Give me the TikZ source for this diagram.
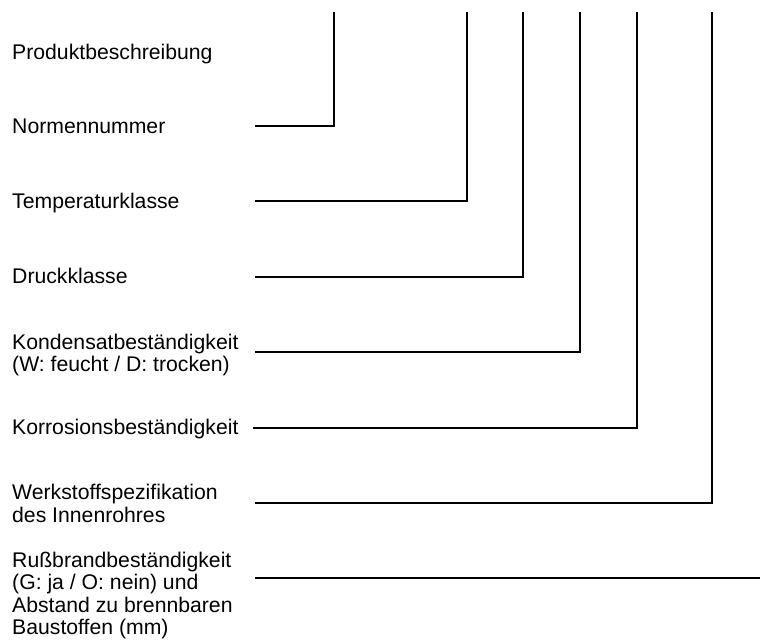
\documentclass[tikz,border=0pt]{standalone}
\usepackage{fontspec}
\setmainfont{Liberation Sans}
\begin{document}
\begin{tikzpicture}[x=1pt,y=-1pt,
  lbl/.style={anchor=base west,inner sep=0pt,align=left,font=\fontsize{21.2}{22.4}\selectfont},
  lead/.style={line width=1.4pt,line cap=butt,line join=miter}]
\useasboundingbox (0,0) rectangle (760,644);
% labels (base anchor = baseline of last line)
\node[lbl] (produkt) at (12,59.3) {Produktbeschreibung};
\node[lbl] (norm) at (12,133.3) {Normennummer};
\node[lbl] (temp) at (12,208.3) {Temperaturklasse};
\node[lbl] (druck) at (12,283.8) {Druckklasse};
\node[lbl] (kond) at (12,371.7) {Kondensatbeständigkeit\\(W: feucht / D: trocken)};
\node[lbl] (korr) at (12,434.3) {Korrosionsbeständigkeit};
\node[lbl] (werk) at (12,522.3) {Werkstoffspezifikation\\des Innenrohres};
\node[lbl] (russ) at (12,634.7) {Rußbrandbeständigkeit\\(G: ja / O: nein) und\\Abstand zu brennbaren\\Baustoffen (mm)};
% line starts
\coordinate (s1) at (255,126);
\coordinate (s2) at (255,201);
\coordinate (s3) at (255,277);
\coordinate (s4) at (255,352);
\coordinate (s5) at (253,428);
\coordinate (s6) at (255,503);
\coordinate (s7) at (255,578);
% top ends
\coordinate (t1) at (334,12);
\coordinate (t2) at (467,12);
\coordinate (t3) at (523,12);
\coordinate (t4) at (580,12);
\coordinate (t5) at (637,12);
\coordinate (t6) at (712,12);
\coordinate (e7) at (760,578);
% leaders
\draw[lead] (s1) -| (t1);
\draw[lead] (s2) -| (t2);
\draw[lead] (s3) -| (t3);
\draw[lead] (s4) -| (t4);
\draw[lead] (s5) -| (t5);
\draw[lead] (s6) -| (t6);
\draw[lead] (s7) -- (e7);
\end{tikzpicture}
\end{document}
